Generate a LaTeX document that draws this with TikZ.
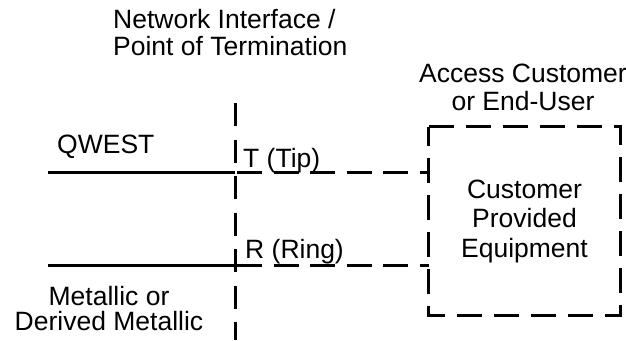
\documentclass[tikz,border=0pt]{standalone}
\usepackage{fontspec}
\setmainfont{Liberation Sans}
\begin{document}
\begin{tikzpicture}[x=1pt,y=-1pt,
  lbl/.style={inner sep=0pt,font=\fontsize{26.5}{27}\selectfont},
  wire/.style={line width=3pt},
  dwire/.style={line width=3pt,dash pattern=on 25pt off 11.5pt},
  nidash/.style={line width=3pt,dash pattern=on 23pt off 13.5pt},
  cpebox/.style={line width=3pt,dash pattern=on 25pt off 12pt}]
\useasboundingbox (0,0) rectangle (626,340);
% texts (base anchor = baseline of last line)
\node[lbl,align=left,anchor=base west,font=\fontsize{26.5}{27}\selectfont] (ni) at (113,55) {Network Interface /\\Point of Termination};
\node[lbl,align=center,anchor=base,font=\fontsize{26.5}{28}\selectfont] (acc) at (523,110) {Access Customer\\or End-User};
\node[lbl,anchor=base west] (qwest) at (57,153) {QWEST};
\node[lbl,anchor=base west] (tip) at (243,167) {T (Tip)};
\node[lbl,anchor=base west] (ring) at (245,258) {R (Ring)};
\node[lbl,align=center,anchor=base,font=\fontsize{26.5}{25}\selectfont] (metal) at (109,330) {Metallic or\\Derived Metallic};
% customer box
\node[lbl,align=center,minimum width=191pt,minimum height=188pt,font=\fontsize{26.5}{29.5}\selectfont] (cpe) at (524.5,221) {Customer\\Provided\\Equipment};
\draw[cpebox] (cpe.north west) -- (cpe.north east) -- (cpe.south east) -- (cpe.south west) -- cycle;
% network interface line
\coordinate (nitop) at (235,103);
\coordinate (nibot) at (235,340);
\draw[nidash] (nitop) -- (nibot);
% tip and ring
\coordinate (tipL) at (48,172);
\coordinate (tipN) at (235,172);
\coordinate (ringL) at (48,265);
\coordinate (ringN) at (235,265);
\draw[wire] (tipL) -- (tipN);
\draw[wire] (ringL) -- (ringN);
\draw[dwire] ([xshift=2pt]tipN) -- (cpe.west |- tipN);
\draw[dwire] ([xshift=2pt]ringN) -- (cpe.west |- ringN);
\end{tikzpicture}
\end{document}
